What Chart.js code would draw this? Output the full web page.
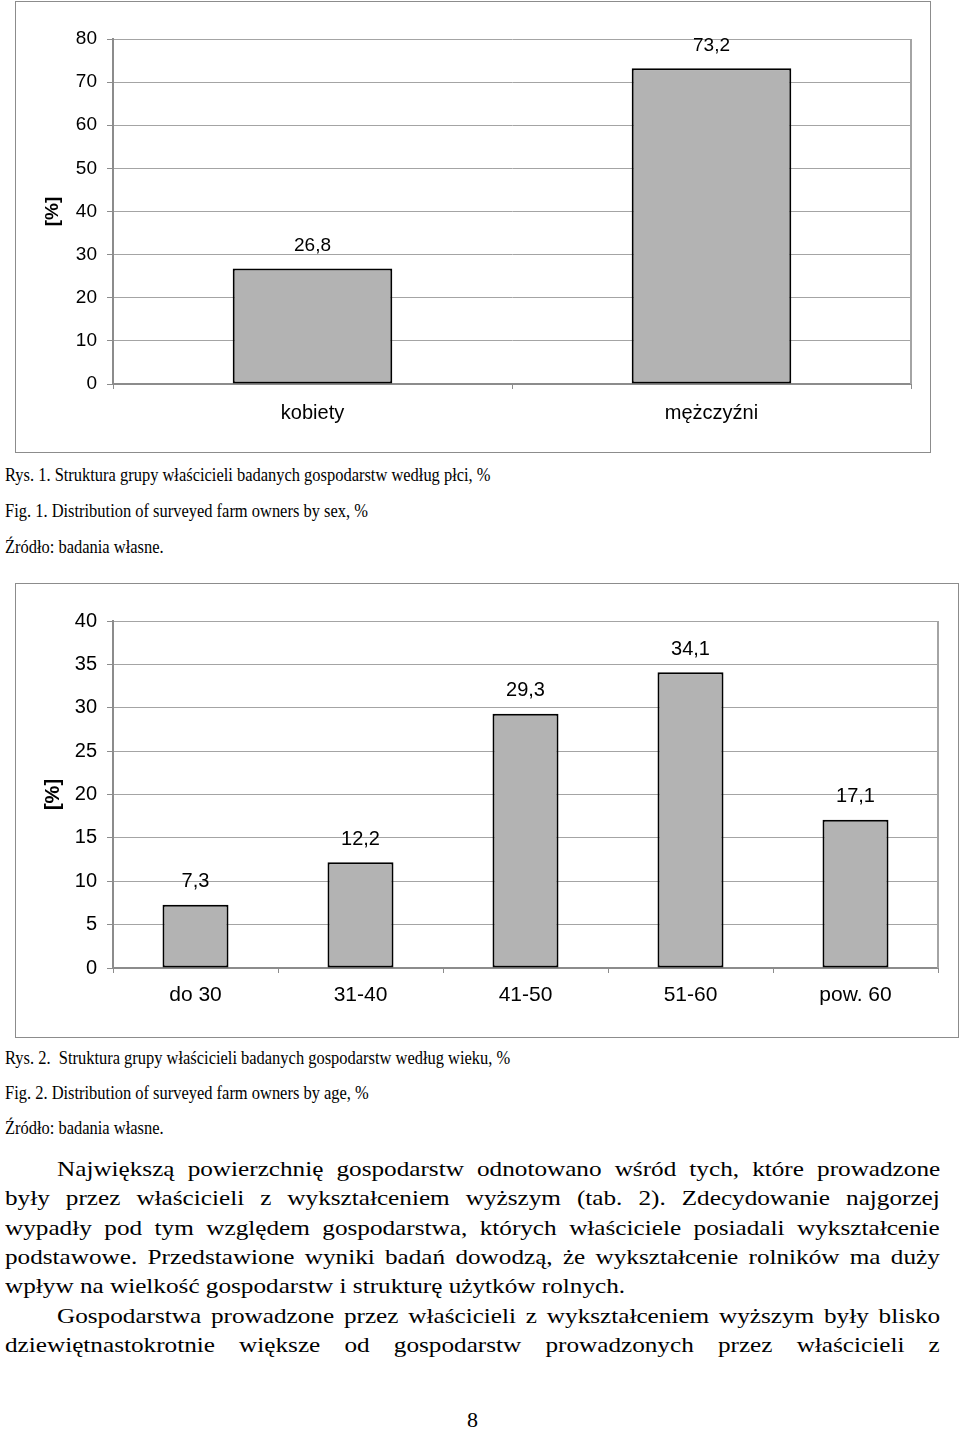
<!DOCTYPE html>
<html lang="pl">
<head>
<meta charset="utf-8">
<title>Struktura grupy właścicieli badanych gospodarstw</title>
<script src="https://cdn.jsdelivr.net/npm/chart.js@4.4.1/dist/chart.umd.min.js"></script>
<style>
    html, body { margin: 0; padding: 0; background: #fff; }
    body {
        position: relative; width: 960px; height: 1433px; overflow: hidden;
        font-family: "Liberation Serif", "Times New Roman", serif; color: #000;
    }
    .box { position: absolute; border: 1px solid #8c8c8c; box-sizing: border-box; }
    .box canvas { display: block; }
    .cap {
        position: absolute; left: 5px; font-size: 19px; line-height: 19px;
        white-space: pre; transform-origin: 0 0; transform: scaleX(0.866);
    }
    /* body text is set wide, so it is stretched to the column */
    .line {
        position: absolute; left: 5px; width: 779px; font-size: 21px; line-height: 21px;
        white-space: nowrap; text-align: justify; text-align-last: justify;
        transform-origin: 0 0; transform: scaleX(1.2);
    }
    .line.indent { left: 57px; width: 736px; }
    .line.last { text-align-last: left; }
    .page { position: absolute; left: 467px; top: 1409px; font-size: 22px; line-height: 22px; }
</style>
</head>
<body>

<div class="box" style="left:15px; top:1px; width:916px; height:452px;">
    <canvas id="chartSex" width="914" height="450"></canvas>
</div>
<div class="cap" style="top:465px;">Rys. 1. Struktura grupy właścicieli badanych gospodarstw według płci, %</div>
<div class="cap" style="top:501px;">Fig. 1. Distribution of surveyed farm owners by sex, %</div>
<div class="cap" style="top:537px;">Źródło: badania własne.</div>

<div class="box" style="left:15px; top:583px; width:944px; height:455px;">
    <canvas id="chartAge" width="942" height="453"></canvas>
</div>
<div class="cap" style="top:1048px;">Rys. 2.  Struktura grupy właścicieli badanych gospodarstw według wieku, %</div>
<div class="cap" style="top:1083px;">Fig. 2. Distribution of surveyed farm owners by age, %</div>
<div class="cap" style="top:1118px;">Źródło: badania własne.</div>

<div class="line indent" style="top:1159px;">Największą powierzchnię gospodarstw odnotowano wśród tych, które prowadzone</div>
<div class="line" style="top:1188.3px;">były przez właścicieli z wykształceniem wyższym (tab. 2). Zdecydowanie najgorzej</div>
<div class="line" style="top:1217.7px;">wypadły pod tym względem gospodarstwa, których właściciele posiadali wykształcenie</div>
<div class="line" style="top:1247px;">podstawowe. Przedstawione wyniki badań dowodzą, że wykształcenie rolników ma duży</div>
<div class="line last" style="top:1276.3px;">wpływ na wielkość gospodarstw i strukturę użytków rolnych.</div>
<div class="line indent" style="top:1305.7px;">Gospodarstwa prowadzone przez właścicieli z wykształceniem wyższym były blisko</div>
<div class="line" style="top:1335px;">dziewiętnastokrotnie większe od gospodarstw prowadzonych przez właścicieli z</div>

<div class="page">8</div>

<script>
/* Chart data */

const sexLabels = ["kobiety", "mężczyźni"];
const sexValues = [26.8, 73.2];
const sexTicks = [0, 10, 20, 30, 40, 50, 60, 70, 80];

const ageLabels = ["do 30", "31-40", "41-50", "51-60", "pow. 60"];
const ageValues = [7.3, 12.2, 29.3, 34.1, 17.1];
const ageTicks = [0, 5, 10, 15, 20, 25, 30, 35, 40];

const axisGrey = "#8c8c8c";
const gridGrey = "#a4a4a4";

Chart.defaults.font.family = '"Liberation Sans", Arial, sans-serif';
Chart.defaults.color = "#000";

/* Value written above each bar, with a decimal comma */
const valueLabels = {
    id: "valueLabels",
    afterDatasetsDraw(chart, args, opts) {
        const ctx = chart.ctx;
        const values = chart.data.datasets[0].data;
        ctx.save();
        ctx.font = opts.size + 'px "Liberation Sans", Arial, sans-serif';
        ctx.fillStyle = "#000";
        ctx.textAlign = "center";
        ctx.textBaseline = "middle";
        chart.getDatasetMeta(0).data.forEach((bar, i) => {
            ctx.fillText(String(values[i]).replace(".", ","), bar.x, bar.y - opts.offset);
        });
        ctx.restore();
    }
};

/* Right edge of the plot area, like the Excel plot frame */
const plotFrame = {
    id: "plotFrame",
    afterDraw(chart) {
        const {ctx, chartArea} = chart;
        ctx.save();
        ctx.strokeStyle = gridGrey;
        ctx.lineWidth = 2;
        ctx.beginPath();
        ctx.moveTo(chartArea.right, chartArea.top);
        ctx.lineTo(chartArea.right, chartArea.bottom);
        ctx.stroke();
        ctx.restore();
    }
};

function makeChart(id, labels, values, ticks, fontSize, padding, xPad) {
    return new Chart(id, {
        type: "bar",
        data: {
            labels: labels,
            datasets: [{
                data: values,
                backgroundColor: "#b3b3b3",
                borderColor: "#000",
                borderWidth: 2,
                borderSkipped: false,
                categoryPercentage: 1,
                barPercentage: 0.4,
            }],
        },
        options: {
            responsive: false,
            animation: false,
            layout: {padding: padding},
            plugins: {
                legend: {display: false},
                tooltip: {enabled: false},
                valueLabels: {size: fontSize, offset: 23},
            },
            scales: {
                x: {
                    grid: {drawOnChartArea: false, tickLength: 5, color: axisGrey},
                    border: {color: axisGrey, width: 2},
                    ticks: {font: {size: fontSize + 1}, padding: xPad},
                    afterFit: (scale) => { scale.height = 40; },
                },
                y: {
                    min: ticks[0],
                    max: ticks[ticks.length - 1],
                    grid: {color: gridGrey, tickLength: 6, tickColor: axisGrey},
                    border: {color: axisGrey, width: 2},
                    ticks: {stepSize: ticks[1] - ticks[0], font: {size: fontSize}, padding: 10},
                    title: {
                        display: true,
                        text: "[%]",
                        font: {size: fontSize, weight: "bold"},
                        padding: {top: 37 - fontSize * 0.6},
                    },
                    afterFit: (scale) => { scale.width = 97; },
                },
            },
        },
        plugins: [valueLabels, plotFrame],
    });
}

makeChart("chartSex", sexLabels, sexValues, sexTicks, 19, {left: 0, top: 37, right: 19, bottom: 28}, 12);
makeChart("chartAge", ageLabels, ageValues, ageTicks, 20, {left: 0, top: 37, right: 20, bottom: 29}, 10);
</script>
</body>
</html>
